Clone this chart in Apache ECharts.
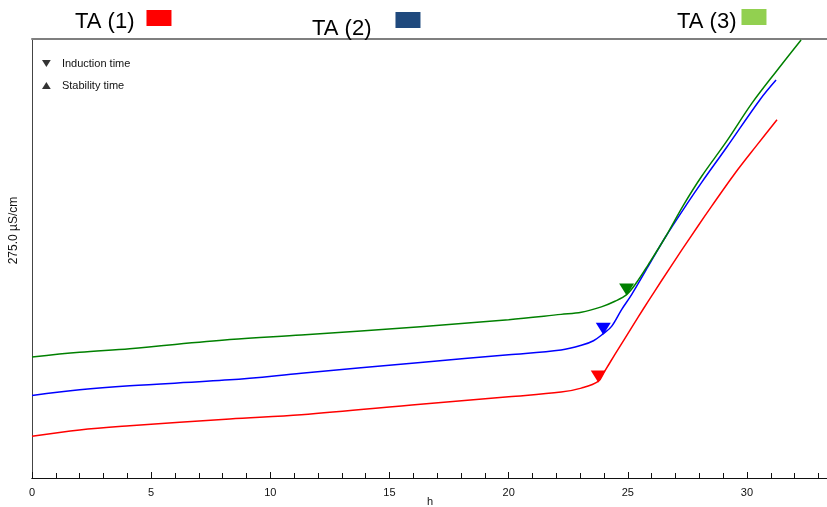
<!DOCTYPE html>
<html>
<head>
<meta charset="utf-8">
<script src="https://cdn.jsdelivr.net/npm/echarts@6/dist/echarts.min.js"></script>
<style>
    html, body { margin: 0; padding: 0; background: #fff; }
    #chart { width: 827px; height: 507px; }
</style>
</head>
<body>
<div id="chart"></div>
<script>
// time in hours, conductivity (scale 0..275 µS/cm)
const redHours = [0, 2.0, 4.1, 8.3, 11.3, 16.3, 20.0, 22.2, 23.05, 23.76, 24.02, 24.46, 24.88, 25.44, 25.86, 26.42, 27.26, 27.96, 28.52, 29.5, 30.4, 31.26]
const redValues = [26.1, 30.1, 32.7, 37.0, 39.6, 46.2, 50.9, 53.8, 56.3, 60.5, 66.7, 77.4, 87.5, 100.9, 110.8, 123.7, 142.7, 158.2, 170.3, 190.9, 208.2, 224.4]

const blueHours = [0, 2.0, 4.1, 8.3, 11.3, 16.3, 20.0, 22.2, 23.05, 23.56, 23.97, 24.32, 24.74, 25.16, 25.86, 26.56, 27.47, 28.1, 29.15, 30.56, 31.22]
const blueValues = [51.7, 55.3, 57.8, 61.5, 65.6, 72.4, 77.2, 80.2, 83.1, 86.0, 90.4, 95.0, 105.5, 114.9, 132.7, 150.5, 171.4, 185.2, 207.2, 237.3, 249.3]

const greenHours = [0, 2.0, 4.1, 8.3, 11.3, 16.3, 20.0, 22.2, 23.05, 23.89, 24.46, 24.95, 25.36, 25.86, 26.56, 27.33, 28.1, 29.15, 30.21, 31.26, 32.27]
const greenValues = [75.8, 78.7, 81.0, 86.7, 89.6, 94.8, 99.2, 102.5, 103.8, 107.2, 110.7, 114.9, 122.3, 133.7, 150.5, 170.8, 189.0, 211.0, 234.8, 255.3, 274.4]

// induction time points (TA 1, TA 2, TA 3)
const inductionHours = [23.76, 23.97, 24.95]
const inductionValues = [60.5, 90.4, 114.9]

const seriesNames = ['TA (1)', 'TA (2)', 'TA (3)']
const lineColors = ['#ff0000', '#0000ff', '#008000']
const legendColors = ['#ff0000', '#1f497d', '#92d050']

const pairs = (xs, ys) => xs.map((x, i) => [x, ys[i]])

const chart = echarts.init(document.getElementById('chart'))

const font = "'Liberation Sans', Arial, sans-serif"
const xMax = 33.4

function topLegend (i, left, top, padTop, padRight) {
    return {
        left: left,
        top: top,
        padding: 0,
        align: 'right',
        icon: 'rect',
        itemWidth: 25,
        itemHeight: 16,
        selectedMode: false,
        data: [{ name: seriesNames[i], itemStyle: { color: legendColors[i] } }],
        formatter: '{t|{name}}',
        textStyle: {
            rich: {
                t: { fontFamily: font, fontSize: 22, color: '#000', padding: [padTop, padRight, 0, 0] }
            }
        }
    }
}

const downTri = 'path://M0,0 L10,0 L5,8 Z'
const upTri = 'path://M5,0 L10,8 L0,8 Z'

const lineSeries = [redHours, blueHours, greenHours].map((hours, i) => ({
    name: seriesNames[i],
    type: 'line',
    data: pairs(hours, [redValues, blueValues, greenValues][i]),
    smooth: 0.35,
    showSymbol: false,
    lineStyle: { color: lineColors[i], width: 1.5 },
    itemStyle: { color: lineColors[i] }
}))

const option = {
    animation: false,
    backgroundColor: '#fff',
    grid: { left: 32, right: -1, top: 39, bottom: 29, containLabel: false, outerBoundsMode: 'none' },
    legend: [
        topLegend(0, 75, 10, 8, 7),
        topLegend(1, 312, 12, 17, 19),
        topLegend(2, 677, 9, 9, 0),
        {
            orient: 'vertical',
            left: 42,
            top: 58,
            padding: 0,
            itemGap: 11,
            itemWidth: 9,
            itemHeight: 7,
            selectedMode: false,
            data: [
                { name: 'Induction time', icon: downTri, itemStyle: { color: '#000' } },
                { name: 'Stability time', icon: upTri, itemStyle: { color: '#000' } }
            ],
            textStyle: { fontFamily: font, fontSize: 11, color: '#111', padding: [0, 0, 0, 6] }
        }
    ],
    xAxis: [
        {
            type: 'value',
            position: 'bottom',
            min: 0,
            max: xMax,
            interval: 1,
            axisLine: { show: true, lineStyle: { color: '#111', width: 1 } },
            axisTick: { show: true, inside: true, length: 5, lineStyle: { color: '#111' } },
            axisLabel: { show: false },
            splitLine: { show: false }
        },
        {
            type: 'value',
            position: 'bottom',
            min: 0,
            max: xMax,
            interval: 5,
            name: 'h',
            nameLocation: 'middle',
            nameGap: 18,
            nameMoveOverlap: false,
            nameTextStyle: { fontFamily: font, fontSize: 11, color: '#111' },
            axisLine: { show: true, lineStyle: { color: '#111', width: 1 } },
            axisTick: { show: true, inside: true, length: 6, lineStyle: { color: '#111' } },
            axisLabel: { fontFamily: font, fontSize: 11, color: '#111', margin: 9, showMaxLabel: false },
            splitLine: { show: false }
        },
        {
            type: 'value',
            position: 'top',
            min: 0,
            max: xMax,
            axisLine: { show: true, lineStyle: { color: '#7f7f7f', width: 2 } },
            axisTick: { show: false },
            axisLabel: { show: false },
            splitLine: { show: false }
        }
    ],
    yAxis: {
        type: 'value',
        min: 0,
        max: 275,
        name: '275.0 µS/cm',
        nameLocation: 'middle',
        nameGap: 12,
        nameTextStyle: { fontFamily: font, fontSize: 12, color: '#111', padding: [0, 0, 0, 56] },
        axisLine: { show: true, lineStyle: { color: '#444', width: 1 } },
        axisTick: { show: false },
        axisLabel: { show: false },
        splitLine: { show: false }
    },
    series: [
        ...lineSeries,
        {
            name: 'Induction time',
            type: 'scatter',
            symbol: 'triangle',
            symbolRotate: 180,
            symbolSize: [15, 12],
            symbolOffset: [0, -5],
            z: 5,
            data: inductionHours.map((h, i) => ({
                value: [h, inductionValues[i]],
                itemStyle: { color: lineColors[i], opacity: 1 }
            }))
        },
        {
            name: 'Stability time',
            type: 'scatter',
            symbol: upTri,
            data: []
        }
    ]
}

chart.setOption(option)
</script>
</body>
</html>
